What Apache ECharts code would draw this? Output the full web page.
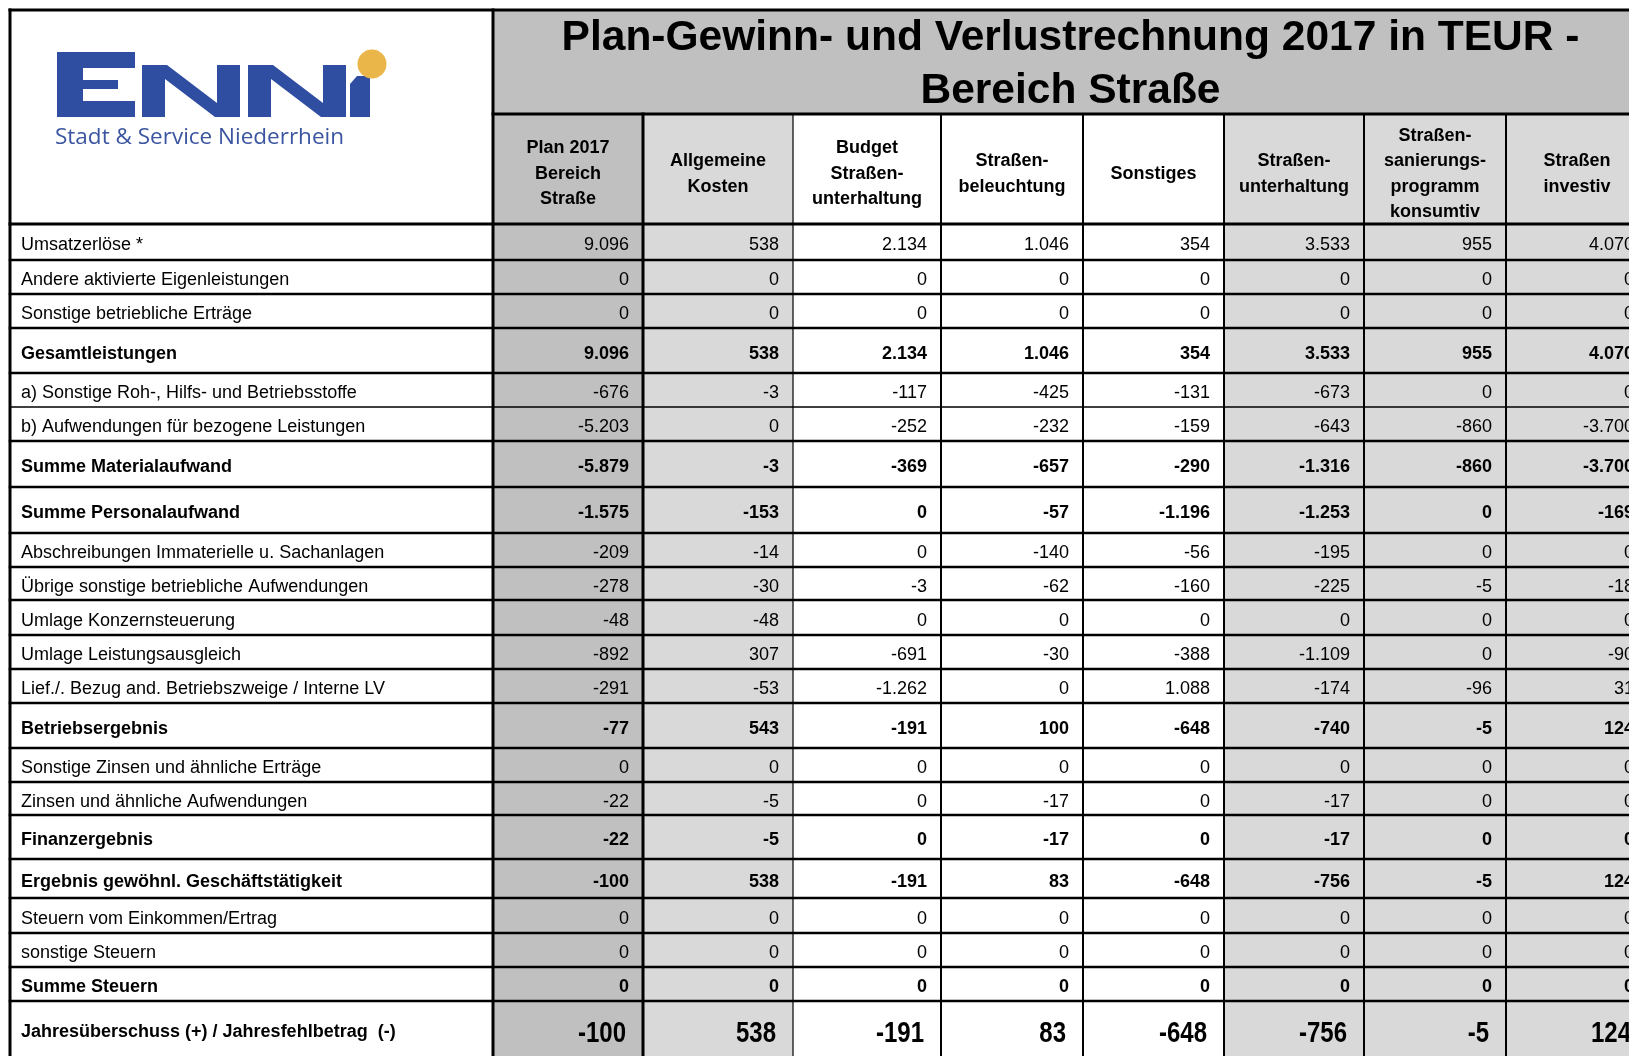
<!DOCTYPE html>
<html>
<head>
<meta charset="utf-8">
<script src="https://cdn.jsdelivr.net/npm/echarts@6/dist/echarts.min.js"></script>
<style>
  html, body { margin: 0; padding: 0; background: #fff; }
  #charts { width: 1629px; height: 1056px; }
</style>
</head>
<body>
<div id="charts"></div>
<script>
// ---- data ----
var titleLines = ['Plan-Gewinn- und Verlustrechnung 2017 in TEUR -', 'Bereich Straße'];
var columns = [
  'Plan 2017\nBereich\nStraße',
  'Allgemeine\nKosten',
  'Budget\nStraßen-\nunterhaltung',
  'Straßen-\nbeleuchtung',
  'Sonstiges',
  'Straßen-\nunterhaltung',
  'Straßen-\nsanierungs-\nprogramm\nkonsumtiv',
  'Straßen\ninvestiv'
];
var rowLabels = [
  'Umsatzerlöse *',
  'Andere aktivierte Eigenleistungen',
  'Sonstige betriebliche Erträge',
  'Gesamtleistungen',
  'a) Sonstige Roh-, Hilfs- und Betriebsstoffe',
  'b) Aufwendungen für bezogene Leistungen',
  'Summe Materialaufwand',
  'Summe Personalaufwand',
  'Abschreibungen Immaterielle u. Sachanlagen',
  'Übrige sonstige betriebliche Aufwendungen',
  'Umlage Konzernsteuerung',
  'Umlage Leistungsausgleich',
  'Lief./. Bezug and. Betriebszweige / Interne LV',
  'Betriebsergebnis',
  'Sonstige Zinsen und ähnliche Erträge',
  'Zinsen und ähnliche Aufwendungen',
  'Finanzergebnis',
  'Ergebnis gewöhnl. Geschäftstätigkeit',
  'Steuern vom Einkommen/Ertrag',
  'sonstige Steuern',
  'Summe Steuern',
  'Jahresüberschuss (+) / Jahresfehlbetrag  (-)'
];
var boldRows = [3, 6, 7, 13, 16, 17, 20, 21];

var plan2017            = [9096, 0, 0, 9096, -676, -5203, -5879, -1575, -209, -278, -48, -892, -291, -77, 0, -22, -22, -100, 0, 0, 0, -100];
var allgemeineKosten    = [538, 0, 0, 538, -3, 0, -3, -153, -14, -30, -48, 307, -53, 543, 0, -5, -5, 538, 0, 0, 0, 538];
var budgetUnterhaltung  = [2134, 0, 0, 2134, -117, -252, -369, 0, 0, -3, 0, -691, -1262, -191, 0, 0, 0, -191, 0, 0, 0, -191];
var strassenbeleuchtung = [1046, 0, 0, 1046, -425, -232, -657, -57, -140, -62, 0, -30, 0, 100, 0, -17, -17, 83, 0, 0, 0, 83];
var sonstiges           = [354, 0, 0, 354, -131, -159, -290, -1196, -56, -160, 0, -388, 1088, -648, 0, 0, 0, -648, 0, 0, 0, -648];
var strassenunterhaltung= [3533, 0, 0, 3533, -673, -643, -1316, -1253, -195, -225, 0, -1109, -174, -740, 0, -17, -17, -756, 0, 0, 0, -756];
var sanierungsprogramm  = [955, 0, 0, 955, 0, -860, -860, 0, 0, -5, 0, 0, -96, -5, 0, 0, 0, -5, 0, 0, 0, -5];
var strassenInvestiv    = [4070, 0, 0, 4070, 0, -3700, -3700, -169, 0, -18, 0, -90, 31, 124, 0, 0, 0, 124, 0, 0, 0, 124];

var columnValues = [plan2017, allgemeineKosten, budgetUnterhaltung, strassenbeleuchtung,
  sonstiges, strassenunterhaltung, sanierungsprogramm, strassenInvestiv];

// ---- layout (sizes and styles) ----
var colWidths = [483, 150, 150, 148, 142, 141, 140, 142, 142];
var rowHeights = [104, 110, 36, 34, 34, 45, 34, 34, 46, 46, 34, 33, 35, 34, 34, 45, 34, 33, 44, 39, 35, 34, 34, 62];
var colFills = ['#ffffff', '#c0c0c0', '#d9d9d9', '#ffffff', '#ffffff', '#ffffff', '#d9d9d9', '#d9d9d9', '#d9d9d9'];
var vLineWidths = [3, 3, 3, 1.2, 2, 2, 2, 2, 2, 2];
var titleFill = '#c0c0c0';
var font = '"Liberation Sans", Arial, sans-serif';

var xEdges = [10];
colWidths.forEach(function (w) { xEdges.push(xEdges[xEdges.length - 1] + w); });
var yEdges = [10];
rowHeights.forEach(function (h) { yEdges.push(yEdges[yEdges.length - 1] + h); });
var xEnd = xEdges[xEdges.length - 1];
var yEnd = yEdges[yEdges.length - 1];

function fmt(v) {
  var s = String(Math.abs(v)).replace(/\B(?=(\d{3})+(?!\d))/g, '.');
  return (v < 0 ? '-' : '') + s;
}

var cellData = [];
columnValues.forEach(function (vals, c) {
  vals.forEach(function (v, r) { cellData.push([c, r, v]); });
});

function rectOf(api, x0, y0, x1, y1) {
  var p0 = api.coord([x0, y0]);
  var p1 = api.coord([x1, y1]);
  return { x: p0[0], y: p0[1], width: p1[0] - p0[0], height: p1[1] - p0[1] };
}

// title band + header cells
function renderFrame(params, api) {
  var c = api.value(0);
  if (c < 0) {
    return { type: 'rect', shape: rectOf(api, xEdges[1], yEdges[0], xEnd, yEdges[1]), style: { fill: titleFill } };
  }
  var r = rectOf(api, xEdges[c + 1], yEdges[1], xEdges[c + 2], yEdges[2]);
  return {
    type: 'group', children: [
      { type: 'rect', shape: r, style: { fill: colFills[c + 1] } },
      { type: 'text', style: { text: columns[c], x: r.x + r.width / 2, y: r.y + r.height / 2 + 5,
        align: 'center', verticalAlign: 'middle', lineHeight: 25.5,
        fontSize: 18, fontWeight: 'bold', fontFamily: font, fill: '#000' } }
    ]
  };
}

function renderLabel(params, api) {
  var r = api.value(0);
  var rc = rectOf(api, xEdges[0], yEdges[r + 2], xEdges[1], yEdges[r + 3]);
  var bold = boldRows.indexOf(r) >= 0;
  var last = r === rowLabels.length - 1;
  return {
    type: 'group', children: [
      { type: 'rect', shape: rc, style: { fill: colFills[0] } },
      { type: 'text', style: { text: rowLabels[r], x: rc.x + 11, y: last ? rc.y + 31 : rc.y + rc.height / 2 + 3.5,
        align: 'left', verticalAlign: 'middle',
        fontSize: 18, fontWeight: bold ? 'bold' : 'normal', fontFamily: font, fill: '#000' } }
    ]
  };
}

function renderCell(params, api) {
  var c = api.value(0), r = api.value(1), v = api.value(2);
  var rc = rectOf(api, xEdges[c + 1], yEdges[r + 2], xEdges[c + 2], yEdges[r + 3]);
  var last = r === rowLabels.length - 1;
  var bold = boldRows.indexOf(r) >= 0;
  return {
    type: 'group', children: [
      { type: 'rect', shape: rc, style: { fill: colFills[c + 1] } },
      { type: 'text', x: rc.x + rc.width - (last ? 17 : 14), y: last ? rc.y + 33 : rc.y + rc.height / 2 + 3.5,
        scaleX: last ? 0.8 : 1,
        style: { text: fmt(v), x: 0, y: 0,
        align: 'right', verticalAlign: 'middle',
        fontSize: last ? 30 : 18, fontWeight: bold ? 'bold' : 'normal',
        fontFamily: font, fill: '#000' } }
    ]
  };
}

function renderVLine(params, api) {
  var i = api.value(0);
  var top = i < 2 ? yEdges[0] : yEdges[1];
  var p0 = api.coord([xEdges[i], top]);
  var p1 = api.coord([xEdges[i], yEnd]);
  return { type: 'line', shape: { x1: p0[0], y1: p0[1], x2: p1[0], y2: p1[1] },
    style: { stroke: '#000', lineWidth: vLineWidths[i], lineCap: 'square' } };
}

function renderHLine(params, api) {
  var j = api.value(0);
  var left = j === 1 ? xEdges[1] : xEdges[0];
  var p0 = api.coord([left, yEdges[j]]);
  var p1 = api.coord([xEnd, yEdges[j]]);
  var w = j === 7 ? 1.5 : (j < 3 ? 3 : 2.5);
  return { type: 'line', shape: { x1: p0[0], y1: p0[1], x2: p1[0], y2: p1[1] },
    style: { stroke: '#000', lineWidth: w, lineCap: 'square' } };
}

var chartDom = document.getElementById('charts');
var myChart = echarts.init(chartDom);

var blue = '#2f4ea1';
var option = {
  animation: false,
  backgroundColor: '#fff',
  grid: { left: 0, top: 0, right: 0, bottom: 0 },
  xAxis: { type: 'value', min: 0, max: 1629, show: false },
  yAxis: { type: 'value', min: 0, max: 1056, inverse: true, show: false },
  graphic: [
    { type: 'group', id: 'logo', z: 100, children: [
      { type: 'polygon', shape: { points: [[57,52],[135,52],[135,68],[83,68],[83,80],[118,80],[118,89],[83,89],[83,101],[135,101],[135,117],[57,117]] }, style: { fill: blue } },
      { type: 'polygon', shape: { points: [[142,117],[142,65],[167,65],[217,103],[217,65],[240,65],[240,117],[215,117],[165,79],[165,117]] }, style: { fill: blue } },
      { type: 'polygon', shape: { points: [[248,117],[248,65],[273,65],[323,103],[323,65],[346,65],[346,117],[321,117],[271,79],[271,117]] }, style: { fill: blue } },
      { type: 'polygon', shape: { points: [[350,117],[350,84],[357,76],[370,76],[370,117]] }, style: { fill: blue } },
      { type: 'circle', shape: { cx: 372, cy: 64, r: 14.5 }, style: { fill: '#eab64a' } },
      { type: 'text', style: { text: 'Stadt & Service Niederrhein', x: 55, y: 138, verticalAlign: 'middle',
        fontSize: 22.5, fontFamily: '"Open Sans", "Noto Sans", sans-serif', fill: '#3b55a0' } }
    ] }
  ],
  series: [
    { type: 'custom', name: 'frame', renderItem: renderFrame, data: [[-1]].concat(columns.map(function (c, i) { return [i]; })), z: 1, clip: false },
    { type: 'custom', name: 'labels', renderItem: renderLabel, data: rowLabels.map(function (l, i) { return [i]; }), z: 1, clip: false },
    { type: 'custom', name: 'cells', renderItem: renderCell, data: cellData, z: 1, clip: false },
    { type: 'custom', name: 'vlines', renderItem: renderVLine, data: xEdges.map(function (x, i) { return [i]; }), z: 5, clip: false },
    { type: 'custom', name: 'hlines', renderItem: renderHLine, data: yEdges.map(function (y, i) { return [i]; }), z: 5, clip: false }
  ]
};
option && myChart.setOption(option);

// title text over the band, positioned through the grid's scales
var tl = myChart.convertToPixel({ gridIndex: 0 }, [(xEdges[1] + xEnd) / 2, yEdges[0]]);
myChart.setOption({
  graphic: [
    { type: 'text', id: 'title1', z: 100, style: { text: titleLines[0], x: tl[0], y: tl[1] + 28, align: 'center', verticalAlign: 'middle',
      fontSize: 42.5, fontWeight: 'bold', fontFamily: '"Liberation Sans"', fill: '#000' } },
    { type: 'text', id: 'title2', z: 100, style: { text: titleLines[1], x: tl[0], y: tl[1] + 81, align: 'center', verticalAlign: 'middle',
      fontSize: 42.5, fontWeight: 'bold', fontFamily: '"Liberation Sans"', fill: '#000' } }
  ]
});
</script>
</body>
</html>
